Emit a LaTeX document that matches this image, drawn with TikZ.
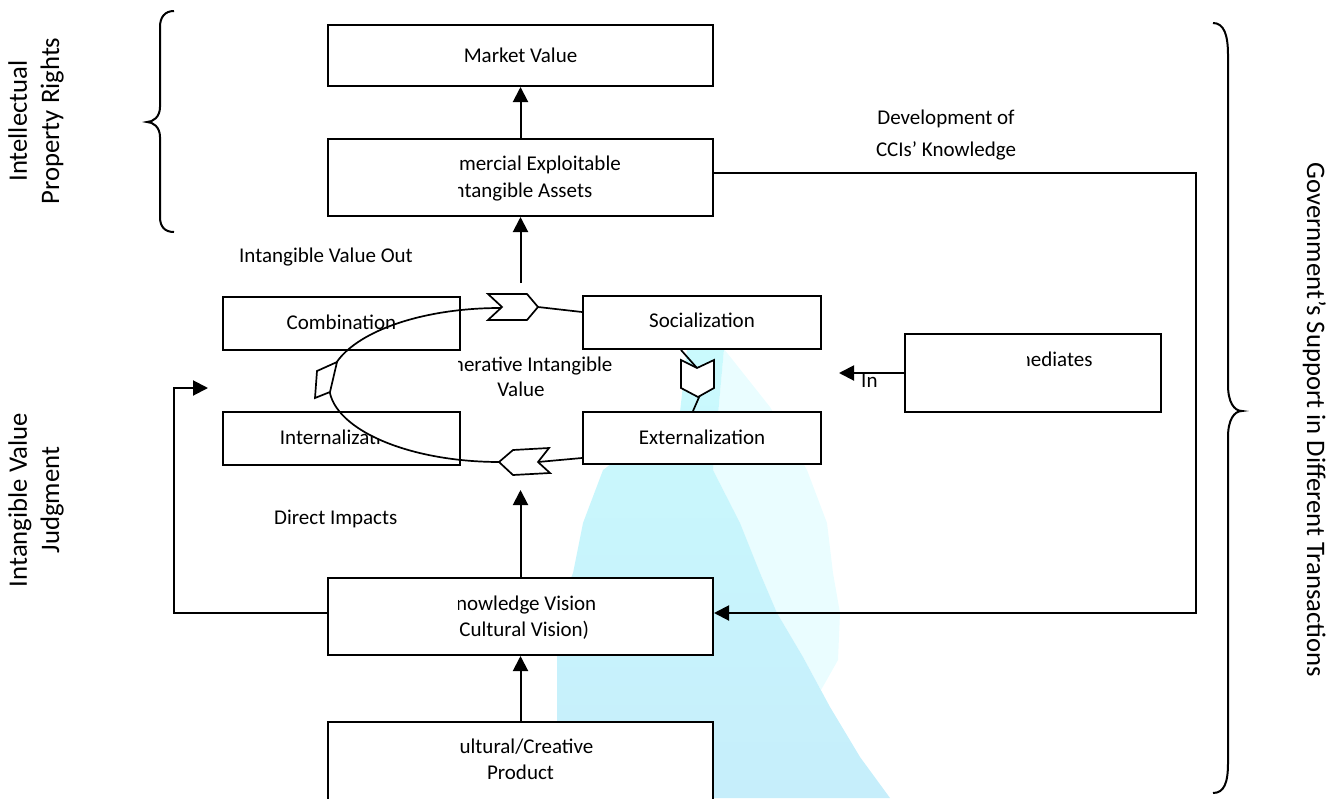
\documentclass[tikz,border=0pt]{standalone}
\usepackage{fontspec}
\setmainfont{Carlito}
\usetikzlibrary{arrows.meta,calc}
\definecolor{cyantop}{RGB}{202,250,253}
\definecolor{cyanbot}{RGB}{198,238,251}
\definecolor{cyanlt}{RGB}{234,253,255}
\begin{document}
\begin{tikzpicture}[x=1pt,y=-1pt,line join=miter,
  box/.style={draw,line width=2pt,fill=white,inner sep=0pt},
  txt/.style={inner sep=0pt,font=\fontsize{21}{25}\selectfont},
  rtxt/.style={inner sep=0pt,anchor=base,font=\fontsize{26.7}{30}\selectfont},
  arr/.style={line width=2pt,-{Triangle[length=15pt,width=15pt]}},
  cyc/.style={line width=1.7pt},
  chev/.style={draw,line width=1.7pt,fill=white},
  brace/.style={line width=2pt}]
\useasboundingbox (0,0) rectangle (1335,798);
% background blob
\fill[cyanlt] (724,349) -- (770,407) -- (807,470) -- (827,523) -- (833,573) -- (840,613) -- (838,660) -- (821,690) -- (803,657) -- (777,613) -- (760,573) -- (740,523) -- (713,470) -- cycle;
\shade[top color=cyantop,bottom color=cyanbot] (687,349) -- (724,349) -- (713,470) -- (740,523) -- (760,573) -- (777,613) -- (803,657) -- (830,707) -- (860,757) -- (890,798) -- (557,798) -- (557,613) -- (573,573) -- (583,523) -- (603,470) -- (680,412) -- cycle;
% boxes
\node[box,minimum width=385pt,minimum height=61pt] (mv) at (520.5,55.5) {};
\node[box,minimum width=385pt,minimum height=77pt] (ce) at (520.5,177.5) {};
\node[box,minimum width=237pt,minimum height=53pt] (comb) at (341.5,323.5) {};
\node[box,minimum width=237pt,minimum height=53pt] (intl) at (341.5,438.5) {};
\node[box,minimum width=238pt,minimum height=53pt] (soc) at (702,322.5) {};
\node[box,minimum width=238pt,minimum height=52pt] (ext) at (702,438) {};
\node[box,minimum width=385pt,minimum height=77pt] (kv) at (520.5,616.5) {};
\node[box,minimum width=385pt,minimum height=83pt] (cp) at (520.5,763.5) {};
\node[box,minimum width=256pt,minimum height=78pt] (im) at (1033,373) {};
% box texts
\node[txt,anchor=base] at (520.5,62) {Market Value};
\node[txt,anchor=base] at (341.5,329) {Combination};
\node[txt,anchor=base] at (702,327) {Socialization};
\node[txt,anchor=base] at (702,444) {Externalization};
\begin{scope}
\clip (458.5,100) rectangle (720,800);
\node[txt,anchor=base east] at (621,170) {mercial Exploitable};
\node[txt,anchor=base east] at (592.5,197) {ntangible Assets};
\node[txt,anchor=base east] at (612.6,371) {nerative Intangible};
\node[txt,anchor=base east] at (596.5,610) {nowledge Vision};
\node[txt,anchor=base east] at (589.4,636) {Cultural Vision)};
\node[txt,anchor=base east] at (593.6,753) {ultural/Creative};
\end{scope}
\node[txt,anchor=base] at (521,396) {Value};
\node[txt,anchor=base] at (520.5,779) {Product};
\begin{scope}
\clip (1027,340) rectangle (1160,380);
\node[txt,anchor=base east] at (1092.7,366) {mediates};
\end{scope}
\begin{scope}[even odd rule]
\clip (200,400) rectangle (470,470) (500,385) ellipse [x radius=171pt,y radius=77pt];
\node[txt,anchor=base west] at (279.7,444) {Internalizati};
\end{scope}
% free labels
\node[txt,anchor=base west] (lout) at (239,262) {Intangible Value Out};
\node[txt,anchor=base west] (ldir) at (274,524) {Direct Impacts};
\node[txt,anchor=base] (ldev1) at (946,124) {Development of};
\node[txt,anchor=base] (ldev2) at (946,156) {CCIs’ Knowledge};
\node[txt,anchor=base west] (lin) at (861,387) {In};
\node[rtxt,rotate=90] (lipr1) at (27,121) {Intellectual};
\node[rtxt,rotate=90] (lipr2) at (59,121) {Property Rights};
\node[rtxt,rotate=90] (livj1) at (27,500) {Intangible Value};
\node[rtxt,rotate=90] (livj2) at (59,500) {Judgment};
\node[rtxt,rotate=-90] (lgov) at (1307,420) {Government’s Support in Different Transactions};
% cycle
\coordinate (chTtip) at (538,307);
\coordinate (chRnotch) at (697,368);
\coordinate (chRtip) at (700,395);
\coordinate (chBnotch) at (538,462);
\draw[cyc] (502,308) -- (500,308) arc[start angle=90,end angle=270,x radius=171pt,y radius=77pt];
\draw[cyc] (chTtip) -- ($(soc.west)+(0,-10.5)$);
\draw[cyc] ($(soc.south)+(-21,0)$) -- (chRnotch);
\draw[cyc] (chRtip) -- ($(ext.north)+(-9,0)$);
\draw[cyc] ($(ext.west)+(0,20)$) -- (chBnotch);
\draw[chev] (488,294) -- (527,294) -- (538,307) -- (527,320) -- (488,320) -- (502,307) -- cycle;
\draw[chev] (681,360) -- (697,368) -- (714,360) -- (714,388) -- (698,397) -- (681,388) -- cycle;
\draw[chev] (499,462) -- (513,450) -- (549,448) -- (538,462) -- (550,473) -- (513,475) -- cycle;
\draw[chev] (315,398) -- (317,371) -- (337,362) -- (330,392) -- cycle;
% arrows
\coordinate (cycB) at (520.5,490);
\coordinate (cycT) at (520.5,283);
\coordinate (rc) at (1196,613);
\coordinate (lc) at (174,388);
\coordinate (lt) at (208,388);
\coordinate (imt) at (839,373);
\draw[arr] (cp.north) -- (kv.south);
\draw[arr] (kv.north) -- (cycB);
\draw[arr] (cycT) -- (ce.south);
\draw[arr] (ce.north) -- (mv.south);
\draw[arr] ($(ce.east)+(0,-5)$) -| (rc) -- ($(kv.east)+(0,-3.5)$);
\draw[arr] ($(kv.west)+(0,-3.5)$) -| (lc) -- (lt);
\draw[arr] (im.west) -- (imt);
% braces
\draw[brace] (174,11) .. controls (165,11) and (160,17) .. (160,27) -- (160,107) .. controls (160,117) and (153,122) .. (147,122) .. controls (153,122) and (160,127) .. (160,137) -- (160,217) .. controls (160,227) and (165,232) .. (174,232);
\draw[brace] (1213,23) .. controls (1224,23) and (1228,35) .. (1228,55) -- (1228,385) .. controls (1228,402) and (1234,411) .. (1242,411) .. controls (1234,411) and (1228,420) .. (1228,437) -- (1228,763) .. controls (1228,783) and (1224,793) .. (1213,793);
\end{tikzpicture}
\end{document}
